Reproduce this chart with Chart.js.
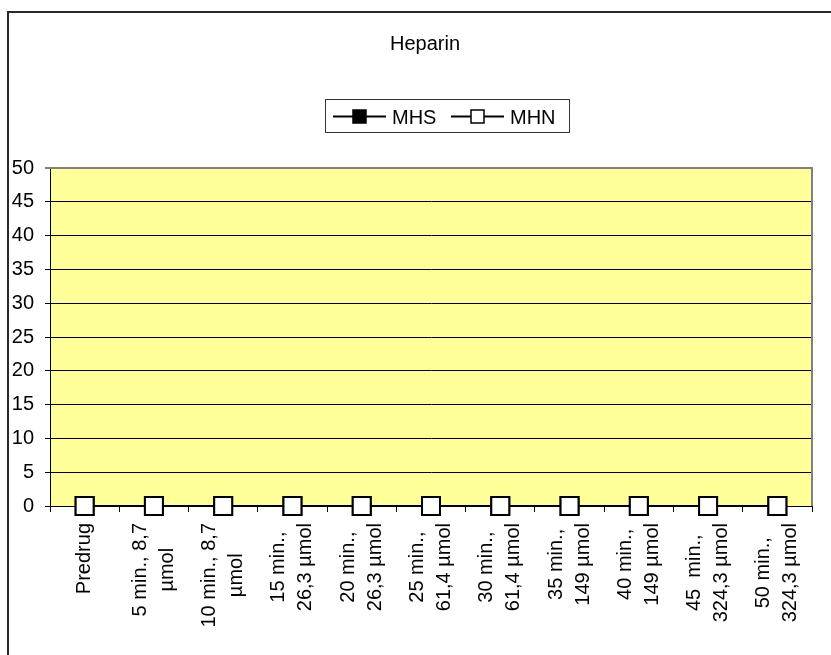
<!DOCTYPE html>
<html>
<head>
<meta charset="utf-8">
<title>Heparin</title>
<script src="https://cdn.jsdelivr.net/npm/chart.js@4.4.1/dist/chart.umd.min.js"></script>
<style>
    html, body {
        margin: 0;
        padding: 0;
        background: #ffffff;
        overflow: hidden;
    }
    #wrap {
        position: relative;
        width: 831px;
        height: 655px;
    }
</style>
</head>
<body>
<div id="wrap">
    <canvas id="heparinChart"></canvas>
</div>
<script>
// Catégories (une ligne de texte par élément)
const categories = [
    ['Predrug'],
    ['5 min., 8,7', 'µmol'],
    ['10 min., 8,7', 'µmol'],
    ['15 min.,', '26,3 µmol'],
    ['20 min.,', '26,3 µmol'],
    ['25 min.,', '61,4 µmol'],
    ['30 min.,', '61,4 µmol'],
    ['35 min.,', '149 µmol'],
    ['40 min.,', '149 µmol'],
    ['45  min.,', '324,3 µmol'],
    ['50 min.,', '324,3 µmol']
];

const mhsValues = [0, 0, 0, 0, 0, 0, 0, 0, 0, 0, 0];
const mhnValues = [0, 0, 0, 0, 0, 0, 0, 0, 0, 0, 0];

const yTicks = [0, 5, 10, 15, 20, 25, 30, 35, 40, 45, 50];

const chartTitle = 'Heparin';
const FONT = '"Liberation Sans", Arial, sans-serif';

// Fond jaune, cadre, titre et légende encadrée
const excelDecor = {
    id: 'excelDecor',
    beforeDraw(chart) {
        const { ctx, chartArea: a } = chart;
        ctx.save();
        ctx.strokeStyle = '#2a2a2a';
        ctx.lineWidth = 2;
        ctx.strokeRect(8, 12, chart.width + 40, chart.height + 40);

        ctx.fillStyle = '#FFFF99';
        ctx.fillRect(a.left, a.top, a.right - a.left, a.bottom - a.top);
        ctx.restore();
    },
    beforeDatasetsDraw(chart) {
        const { ctx, chartArea: a } = chart;
        ctx.save();
        ctx.strokeStyle = '#808080';
        ctx.lineWidth = 2;
        ctx.beginPath();
        ctx.moveTo(a.left, a.top);
        ctx.lineTo(a.right, a.top);
        ctx.lineTo(a.right, a.bottom);
        ctx.stroke();
        ctx.restore();
    },
    afterDraw(chart) {
        const ctx = chart.ctx;
        ctx.save();

        // Titre
        ctx.fillStyle = '#000';
        ctx.font = '20px ' + FONT;
        ctx.textAlign = 'center';
        ctx.textBaseline = 'alphabetic';
        ctx.fillText(chartTitle, 425, 50);

        // Légende
        ctx.strokeStyle = '#333';
        ctx.lineWidth = 1;
        ctx.strokeRect(325.5, 99.5, 244, 33);

        const starts = [333, 451];
        chart.data.datasets.forEach((ds, i) => {
            const x0 = starts[i];
            const y = 116.5;
            ctx.strokeStyle = ds.borderColor;
            ctx.lineWidth = 2;
            ctx.beginPath();
            ctx.moveTo(x0, y);
            ctx.lineTo(x0 + 53, y);
            ctx.stroke();

            ctx.fillStyle = ds.pointBackgroundColor;
            ctx.strokeStyle = ds.pointBorderColor;
            ctx.lineWidth = 1.5;
            ctx.beginPath();
            ctx.rect(x0 + 26.5 - 6.5, y - 6.5, 13, 13);
            ctx.fill();
            ctx.stroke();

            ctx.fillStyle = '#000';
            ctx.font = '20px ' + FONT;
            ctx.textAlign = 'left';
            ctx.fillText(ds.label, x0 + 59, 123.5);
        });

        // Étiquettes verticales de l'axe des catégories
        const xScale = chart.scales.x;
        ctx.font = '20px ' + FONT;
        ctx.fillStyle = '#000';
        ctx.textAlign = 'center';
        ctx.textBaseline = 'middle';
        const lineGap = 27;
        categories.forEach((lines, i) => {
            const x = xScale.getPixelForTick(i);
            const top = xScale.top + 17;
            const block = Math.max(...lines.map(l => ctx.measureText(l).width));
            ctx.save();
            ctx.translate(x, top);
            ctx.rotate(-Math.PI / 2);
            lines.forEach((line, j) => {
                ctx.fillText(line, -block / 2, (j - (lines.length - 1) / 2) * lineGap);
            });
            ctx.restore();
        });

        ctx.restore();
    }
};

function initChart() {
    const ctx = document.getElementById('heparinChart').getContext('2d');

    new Chart(ctx, {
        type: 'line',
        data: {
            labels: categories,
            datasets: [
                {
                    label: 'MHS',
                    data: mhsValues,
                    borderColor: '#000000',
                    borderWidth: 2,
                    pointStyle: 'rect',
                    pointRadius: 12.7,
                    pointBackgroundColor: '#000000',
                    pointBorderColor: '#000000',
                    pointBorderWidth: 2,
                    tension: 0,
                    clip: false,
                    order: 1
                },
                {
                    label: 'MHN',
                    data: mhnValues,
                    borderColor: '#000000',
                    borderWidth: 2,
                    pointStyle: 'rect',
                    pointRadius: 12.7,
                    pointBackgroundColor: '#ffffff',
                    pointBorderColor: '#000000',
                    pointBorderWidth: 2,
                    tension: 0,
                    clip: false,
                    order: 0
                }
            ]
        },
        options: {
            responsive: true,
            maintainAspectRatio: false,
            animation: false,
            layout: {
                padding: { left: 10, right: 19, top: 168, bottom: 0 }
            },
            plugins: {
                legend: { display: false },
                title: { display: false },
                tooltip: { enabled: false }
            },
            scales: {
                x: {
                    offset: true,
                    grid: {
                        offset: true,
                        drawOnChartArea: false,
                        drawTicks: true,
                        tickLength: 6,
                        color: '#000'
                    },
                    border: { display: true, color: '#000', width: 1 },
                    ticks: { display: false },
                    afterFit(scale) {
                        scale.height = 149;
                    }
                },
                y: {
                    min: 0,
                    max: 50,
                    afterBuildTicks(scale) {
                        scale.ticks = yTicks.map(v => ({ value: v }));
                    },
                    grid: {
                        color: c => (c.tick && c.tick.value === 50 ? '#808080' : '#000'),
                        lineWidth: c => (c.tick && c.tick.value === 50 ? 2 : 1),
                        tickColor: '#000',
                        tickWidth: 1,
                        tickLength: 5,
                        drawTicks: true
                    },
                    border: { display: true, color: '#000', width: 1 },
                    ticks: {
                        color: '#000',
                        padding: 11,
                        font: { family: FONT, size: 20 }
                    },
                    afterFit(scale) {
                        scale.width = 40;
                    }
                }
            }
        },
        plugins: [excelDecor]
    });
}

document.addEventListener('DOMContentLoaded', () => {
    initChart();
});
</script>
</body>
</html>
